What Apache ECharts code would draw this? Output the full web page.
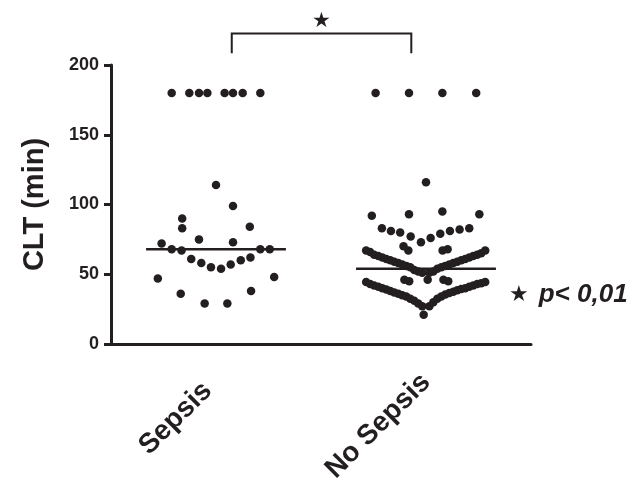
<!DOCTYPE html>
<html>
<head>
<meta charset="utf-8">
<script src="https://cdn.jsdelivr.net/npm/echarts@6/dist/echarts.min.js"></script>
<style>
  html, body { margin: 0; padding: 0; background: #fff; }
  #chart { width: 641px; height: 480px; }
</style>
</head>
<body>
<div id="chart"></div>
<script>
// categories and read-off values
var categories = ['Sepsis', 'No Sepsis'];

// CLT values (min) and horizontal spread (in category widths) of each dot
var sepsisValues = [180, 180, 180, 180, 180, 180, 180, 180,
    114, 99, 90, 83, 84, 75, 73, 72, 68, 67, 68, 68,
    61, 58, 55, 54, 57, 60, 62,
    47, 48, 36, 38, 29, 29];
var sepsisOffsets = [-0.211, -0.127, -0.081, -0.041, 0.041, 0.081, 0.127, 0.211,
    0, 0.081, -0.161, -0.161, 0.161, -0.081, 0.081, -0.259, -0.211, -0.164, 0.211, 0.256,
    -0.118, -0.070, -0.024, 0.024, 0.070, 0.118, 0.164,
    -0.277, 0.277, -0.168, 0.167, -0.054, 0.054];

var noSepsisValues = [180, 180, 180, 180,
    116,
    92, 93, 95, 93,
    83, 81, 80, 77, 73, 76, 79, 81, 82, 83,
    70, 67, 67, 68,
    46, 45, 46, 45, 46,
    // upper band, left then right
    67, 66, 64, 63, 62, 61, 60, 59, 58, 57, 56, 55, 53, 52, 51,
    51, 52, 54, 55, 56, 57, 58, 59, 60, 61, 62, 63, 64, 65, 67,
    // lower band, left then right
    44.5, 43, 42, 41, 40, 39, 38, 37, 36, 35, 34, 32.5, 31, 29, 27,
    27, 30, 32.5, 34, 35.5, 36.5, 37.5, 38.5, 39.5, 40, 41, 42, 43, 43.5, 44.5,
    21];
var noSepsisOffsets = [-0.240, -0.081, 0.078, 0.239,
    0,
    -0.258, -0.081, 0.078, 0.254,
    -0.210, -0.167, -0.123, -0.073, -0.024, 0.022, 0.068, 0.114, 0.160, 0.206,
    -0.107, -0.084, 0.079, 0.103,
    -0.103, -0.080, 0.083, 0.106, 0.008,
    -0.285, -0.266, -0.247, -0.227, -0.208, -0.189, -0.170, -0.151, -0.132, -0.113, -0.094, -0.075, -0.056, -0.037, -0.018,
    0.016, 0.035, 0.054, 0.073, 0.092, 0.111, 0.130, 0.149, 0.168, 0.187, 0.206, 0.225, 0.244, 0.263, 0.282,
    -0.285, -0.266, -0.247, -0.227, -0.208, -0.189, -0.170, -0.151, -0.132, -0.113, -0.094, -0.075, -0.056, -0.037, -0.018,
    0.016, 0.035, 0.054, 0.073, 0.092, 0.111, 0.130, 0.149, 0.168, 0.187, 0.206, 0.225, 0.244, 0.263, 0.282,
    -0.011];

var medians = [68, 54];
var medianHalfWidth = 0.333;

// significance bracket (x in category units, y in minutes)
var bracketX = [1.075, 1.93];
var bracketY = [208.5, 222.5];
var starY = 231;

var ink = '#231f20';
var font = '"Liberation Sans", Arial, Helvetica, sans-serif';

function toPoints(center, offsets, values) {
    return values.map(function (v, i) {
        return [center + offsets[i], v];
    });
}

function medianLine(center, m) {
    return [[center - medianHalfWidth, m], [center + medianHalfWidth, m]];
}

var myChart = echarts.init(document.getElementById('chart'));

var option = {
    backgroundColor: '#fff',
    animation: false,
    grid: {
        left: 111,
        right: 110,
        top: 65,
        bottom: 136,
        outerBoundsMode: 'none'
    },
    xAxis: [
        {
            type: 'category',
            // Sepsis label sits a bit further out along its baseline
            data: [
                { value: categories[0], textStyle: { padding: [0, 12, 0, 0] } },
                categories[1]
            ],
            boundaryGap: true,
            axisLine: { lineStyle: { color: ink, width: 3 } },
            axisTick: { alignWithLabel: true, length: 7, lineStyle: { color: ink, width: 3 } },
            axisLabel: {
                rotate: 45,
                margin: 34,
                color: ink,
                fontFamily: font,
                fontWeight: 'bold',
                fontSize: 28
            },
            splitLine: { show: false }
        },
        {
            type: 'value',
            min: 0.5,
            max: 2.5,
            show: false
        }
    ],
    yAxis: {
        type: 'value',
        min: 0,
        max: 200,
        interval: 50,
        name: 'CLT (min)',
        nameLocation: 'middle',
        nameGap: 62,
        nameTextStyle: {
            color: ink,
            fontFamily: font,
            fontWeight: 'bold',
            fontSize: 29
        },
        axisLine: { show: true, lineStyle: { color: ink, width: 3 } },
        axisTick: { show: true, length: 7, lineStyle: { color: ink, width: 3 } },
        axisLabel: {
            margin: 12,
            color: ink,
            fontFamily: font,
            fontWeight: 'bold',
            fontSize: 18
        },
        splitLine: { show: false }
    },
    series: [
        {
            name: 'Sepsis',
            type: 'scatter',
            xAxisIndex: 1,
            symbolSize: 8.5,
            itemStyle: { color: ink, opacity: 1 },
            data: toPoints(1, sepsisOffsets, sepsisValues)
        },
        {
            name: 'No Sepsis',
            type: 'scatter',
            xAxisIndex: 1,
            symbolSize: 8.5,
            itemStyle: { color: ink, opacity: 1 },
            data: toPoints(2, noSepsisOffsets, noSepsisValues)
        },
        {
            name: 'median Sepsis',
            type: 'line',
            xAxisIndex: 1,
            symbol: 'none',
            lineStyle: { color: ink, width: 2.5 },
            data: medianLine(1, medians[0])
        },
        {
            name: 'median No Sepsis',
            type: 'line',
            xAxisIndex: 1,
            symbol: 'none',
            lineStyle: { color: ink, width: 2.5 },
            data: medianLine(2, medians[1])
        }
    ]
};

myChart.setOption(option);

// bracket + star placed through the axes
var px = function (x, y) {
    return myChart.convertToPixel({ xAxisIndex: 1, yAxisIndex: 0 }, [x, y]);
};
var bl = px(bracketX[0], bracketY[0]);
var tl = px(bracketX[0], bracketY[1]);
var tr = px(bracketX[1], bracketY[1]);
var br = px(bracketX[1], bracketY[0]);
var st = px((bracketX[0] + bracketX[1]) / 2, starY);

myChart.setOption({
    graphic: [
        {
            type: 'polyline',
            shape: { points: [bl, tl, tr, br] },
            style: { stroke: ink, lineWidth: 2, fill: null }
        },
        {
            type: 'text',
            x: st[0],
            y: st[1],
            style: {
                text: '★',
                fill: ink,
                fontSize: 21,
                fontFamily: '"DejaVu Sans", sans-serif',
                align: 'center',
                verticalAlign: 'middle'
            }
        },
        {
            type: 'text',
            left: 509,
            top: 282,
            style: {
                text: '{s|★}{p|p< 0,01}',
                fill: ink,
                rich: {
                    s: { fontSize: 22, fontFamily: '"DejaVu Sans", sans-serif', fill: ink, padding: [0, 10, 0, 0] },
                    p: { fontSize: 26, fontFamily: font, fontWeight: 'bold', fontStyle: 'italic', fill: ink }
                }
            }
        }
    ]
});
</script>
</body>
</html>
